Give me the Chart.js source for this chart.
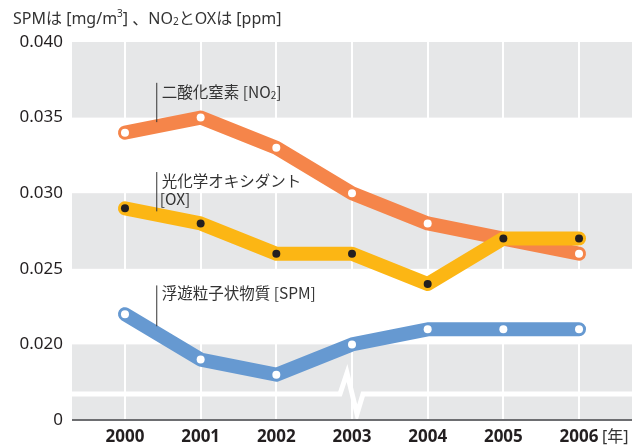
<!DOCTYPE html>
<html>
<head>
<meta charset="utf-8">
<script src="https://cdn.jsdelivr.net/npm/chart.js@4.4.1/dist/chart.umd.min.js"></script>
<style>
  html, body { margin: 0; padding: 0; background: #fff; }
  #wrap { width: 637px; height: 447px; position: relative; }
</style>
</head>
<body>
<div id="wrap"><canvas id="chart"></canvas></div>
<script>
// --- data ---
const years = [2000, 2001, 2002, 2003, 2004, 2005, 2006];
const no2 = [0.034, 0.035, 0.033, 0.030, 0.028, 0.027, 0.026];
const ox  = [0.029, 0.028, 0.026, 0.026, 0.024, 0.027, 0.027];
const spm = [0.022, 0.019, 0.018, 0.020, 0.021, 0.021, 0.021];

// y axis is broken: the bottom tick stands for 0
const yTicks = [0.015, 0.020, 0.025, 0.030, 0.035, 0.040];
const yTickLabels = ['0', '0.020', '0.025', '0.030', '0.035', '0.040'];
const grayBands = [[0.035, 0.040], [0.025, 0.030], [0.015, 0.020]];
const breakValue = 0.01672;

const LATIN = '"Noto Sans", "Noto Sans CJK JP", sans-serif';
const JP = '"Noto Sans CJK JP", "Noto Sans", sans-serif';
const TEXT = '#333333';

const toPts = arr => arr.map((v, i) => ({ x: years[i], y: v }));

// draw a line of text made of parts with different sizes / offsets
function drawRich(ctx, x, y, parts) {
  ctx.save();
  ctx.textBaseline = 'middle';
  ctx.textAlign = 'left';
  ctx.fillStyle = TEXT;
  for (const p of parts) {
    ctx.font = (p.size || 15.5) + 'px ' + (p.font || JP);
    ctx.fillText(p.t, x, y + (p.dy || 0));
    x += ctx.measureText(p.t).width + (p.gap || 0);
  }
  ctx.restore();
}

const backdrop = {
  id: 'backdrop',
  beforeDraw(chart) {
    const { ctx, chartArea: a, scales: { y } } = chart;
    ctx.save();
    ctx.fillStyle = '#e6e7e8';
    grayBands.forEach(([lo, hi]) => {
      const top = y.getPixelForValue(hi), bot = y.getPixelForValue(lo);
      ctx.fillRect(a.left, top, a.right - a.left, bot - top);
    });
    ctx.restore();
  },
  beforeDatasetsDraw(chart) {
    const { ctx, chartArea: a, scales: { x, y } } = chart;
    const by = y.getPixelForValue(breakValue);
    const cx = x.getPixelForValue(2003);
    ctx.save();
    ctx.strokeStyle = '#ffffff';
    ctx.lineWidth = 5;
    ctx.lineJoin = 'miter';
    ctx.beginPath();
    ctx.moveTo(a.left, by);
    ctx.lineTo(cx - 12, by);
    ctx.lineTo(cx - 5, by - 21);
    ctx.lineTo(cx + 5, by + 20);
    ctx.lineTo(cx + 11, by);
    ctx.lineTo(a.right, by);
    ctx.stroke();
    // axis line at bottom
    ctx.strokeStyle = '#6d6e71';
    ctx.lineWidth = 2;
    ctx.beginPath();
    ctx.moveTo(a.left, a.bottom);
    ctx.lineTo(a.right, a.bottom);
    ctx.stroke();
    ctx.restore();
  },
  afterDraw(chart) {
    const { ctx, scales: { x, y } } = chart;
    // title
    drawRich(ctx, 13, 19, [
      { t: 'SPMは', size: 16, font: LATIN },
      { t: ' [mg/m', size: 16, font: LATIN },
      { t: '3', size: 10, dy: -5, font: LATIN },
      { t: '] 、NO', size: 16, font: LATIN },
      { t: '2', size: 10, dy: 3, font: LATIN },
      { t: 'とOXは [ppm]', size: 16, font: LATIN }
    ]);
    // unit after the last year
    ctx.save();
    ctx.font = '16px ' + LATIN;
    ctx.fillStyle = TEXT;
    ctx.textBaseline = 'middle';
    ctx.fillText('[年]', x.getPixelForValue(2006) + 23, 437);
    ctx.restore();

    // series labels with leader lines
    const lx = x.getPixelForValue(2000.42);
    ctx.save();
    ctx.strokeStyle = '#333';
    ctx.lineWidth = 1;
    const leader = (v1, v2) => {
      ctx.beginPath();
      ctx.moveTo(lx, y.getPixelForValue(v1));
      ctx.lineTo(lx, y.getPixelForValue(v2));
      ctx.stroke();
    };
    leader(0.0373, 0.0347);
    leader(0.0314, 0.0288);
    leader(0.0239, 0.0212);
    ctx.restore();

    drawRich(ctx, lx + 5, y.getPixelForValue(0.0367), [
      { t: '二酸化窒素 [NO' },
      { t: '2', size: 10, dy: 3 },
      { t: ']' }
    ]);
    drawRich(ctx, lx + 5, y.getPixelForValue(0.0308), [{ t: '光化学オキシダント' }]);
    drawRich(ctx, lx + 3, y.getPixelForValue(0.0296), [{ t: '[OX]' }]);
    drawRich(ctx, lx + 5, y.getPixelForValue(0.0234), [{ t: '浮遊粒子状物質 [SPM]' }]);
  }
};

const lineStyle = {
  borderWidth: 14,
  borderCapStyle: 'round',
  borderJoinStyle: 'round',
  tension: 0,
  pointRadius: 4,
  pointBorderWidth: 0,
  pointHoverRadius: 4,
  fill: false
};

new Chart(document.getElementById('chart'), {
  type: 'line',
  data: {
    datasets: [
      Object.assign({ label: '光化学オキシダント [OX]', data: toPts(ox), borderColor: '#fcb614',
        pointBackgroundColor: '#231f20', order: 0 }, lineStyle),
      Object.assign({ label: '二酸化窒素 [NO2]', data: toPts(no2), borderColor: '#f5854a',
        pointBackgroundColor: '#ffffff', order: 1 }, lineStyle),
      Object.assign({ label: '浮遊粒子状物質 [SPM]', data: toPts(spm), borderColor: '#6699d1',
        pointBackgroundColor: '#ffffff', order: 2 }, lineStyle)
    ]
  },
  options: {
    responsive: true,
    maintainAspectRatio: false,
    animation: false,
    layout: { padding: { top: 42, right: 5, left: 0, bottom: 0 } },
    plugins: {
      legend: { display: false },
      tooltip: { enabled: false }
    },
    scales: {
      x: {
        type: 'linear',
        min: 1999.3,
        max: 2006.7,
        afterBuildTicks: s => { s.ticks = years.map(v => ({ value: v })); },
        afterFit: s => { s.height = 27; },
        grid: { color: '#ffffff', lineWidth: 2, drawTicks: false },
        border: { display: false },
        ticks: {
          padding: 7,
          color: '#231f20',
          font: { family: LATIN, size: 17, weight: 'bold' },
          callback: v => String(v)
        }
      },
      y: {
        min: 0.015,
        max: 0.040,
        afterBuildTicks: s => { s.ticks = yTicks.map(v => ({ value: v })); },
        afterFit: s => { s.width = 72; },
        grid: { display: false, drawTicks: false },
        border: { display: false },
        ticks: {
          padding: 9,
          color: '#231f20',
          font: { family: LATIN, size: 17 },
          callback: v => {
            const i = yTicks.findIndex(t => Math.abs(t - v) < 1e-9);
            return i >= 0 ? yTickLabels[i] : '';
          }
        }
      }
    }
  },
  plugins: [backdrop]
});
</script>
</body>
</html>
